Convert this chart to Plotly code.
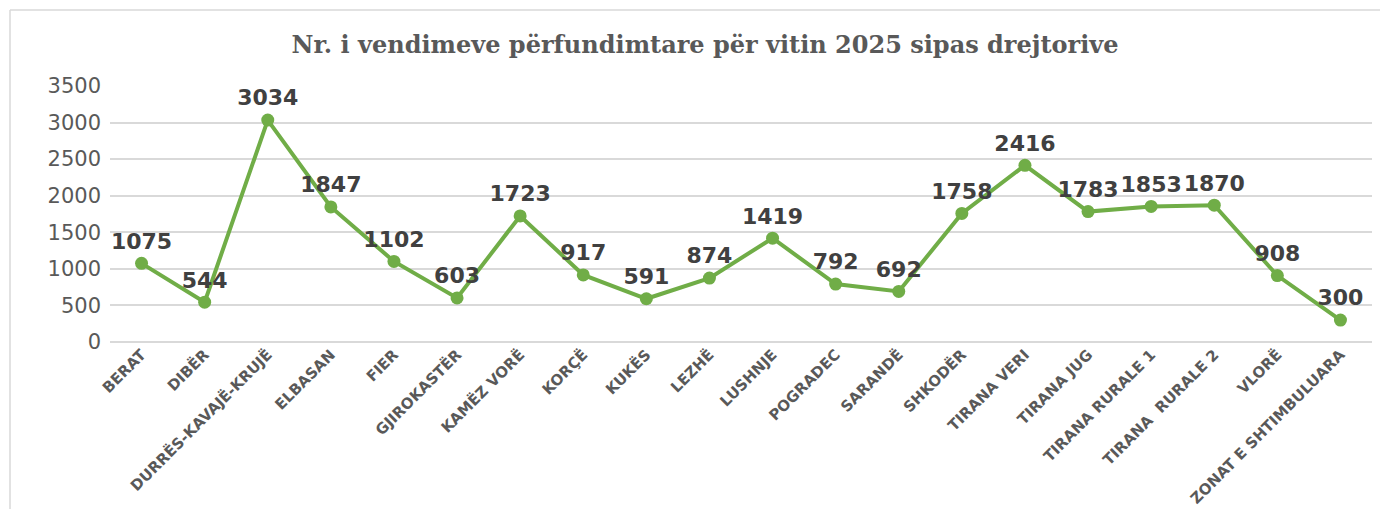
import plotly.graph_objects as go

categories = ["BERAT", "DIBËR", "DURRËS-KAVAJË-KRUJË", "ELBASAN", "FIER", "GJIROKASTËR",
              "KAMËZ VORË", "KORÇË", "KUKËS", "LEZHË", "LUSHNJE", "POGRADEC", "SARANDË",
              "SHKODËR", "TIRANA VERI", "TIRANA JUG", "TIRANA RURALE 1", "TIRANA  RURALE 2",
              "VLORË", "ZONAT E SHTIMBULUARA"]
values = [1075, 544, 3034, 1847, 1102, 603, 1723, 917, 591, 874, 1419, 792, 692,
          1758, 2416, 1783, 1853, 1870, 908, 300]
y_ticks = [0, 500, 1000, 1500, 2000, 2500, 3000, 3500]

# page body has an 8px margin; figure coordinates are offset by it
OFF = 8
W, H = 1388 - OFF, 509 - OFF
L, R, T, B = 110 - OFF, 1388 - 1372, 86 - OFF, 509 - 342
pw, ph = W - L - R, H - T - B

def px(x):
    return (x - OFF - L) / pw

def py(y):
    return (H - B - (y - OFF)) / ph

fig = go.Figure()
fig.add_trace(go.Scatter(
    x=categories, y=values, mode="lines+markers+text",
    line=dict(color="#70AD47", width=4),
    marker=dict(color="#70AD47", size=13),
    text=[str(v) for v in values], textposition="top center",
    textfont=dict(family="DejaVu Sans", size=22, color="#404040", weight="bold"),
    cliponaxis=False, hoverinfo="x+y",
))

fig.update_layout(
    width=W, height=H,
    margin=dict(l=L, r=R, t=T, b=B, autoexpand=False),
    paper_bgcolor="white", plot_bgcolor="white",
    showlegend=False,
    title=dict(text="Nr. i vendimeve përfundimtare për vitin 2025 sipas drejtorive",
               x=(705 - OFF) / W, xanchor="center", xref="container",
               y=1 - (45 - OFF) / H, yanchor="middle",
               font=dict(family="DejaVu Serif", size=24, color="#595959", weight="bold")),
    xaxis=dict(type="category", tickangle=-45, showgrid=False, showline=False, automargin=False,
               ticks="", tickfont=dict(family="DejaVu Sans", size=15, color="#595959", weight="bold"),
               range=[-0.5, len(categories) - 0.5]),
    yaxis=dict(range=[0, 3500], tickvals=y_ticks, showgrid=True, gridcolor="#D9D9D9",
               gridwidth=1.5, zeroline=True, zerolinecolor="#D9D9D9", zerolinewidth=1.5,
               showline=False, ticks="", ticklabelstandoff=8, automargin=False,
               tickfont=dict(family="DejaVu Sans", size=21, color="#595959")),
    shapes=[
        dict(type="line", xref="paper", yref="paper", x0=px(10), x1=px(1388), y0=py(10), y1=py(10),
             line=dict(color="#D9D9D9", width=1.5)),
        dict(type="line", xref="paper", yref="paper", x0=px(10), x1=px(10), y0=py(10), y1=py(509),
             line=dict(color="#D9D9D9", width=1.5)),
    ],
)

fig.write_html("out.html")
